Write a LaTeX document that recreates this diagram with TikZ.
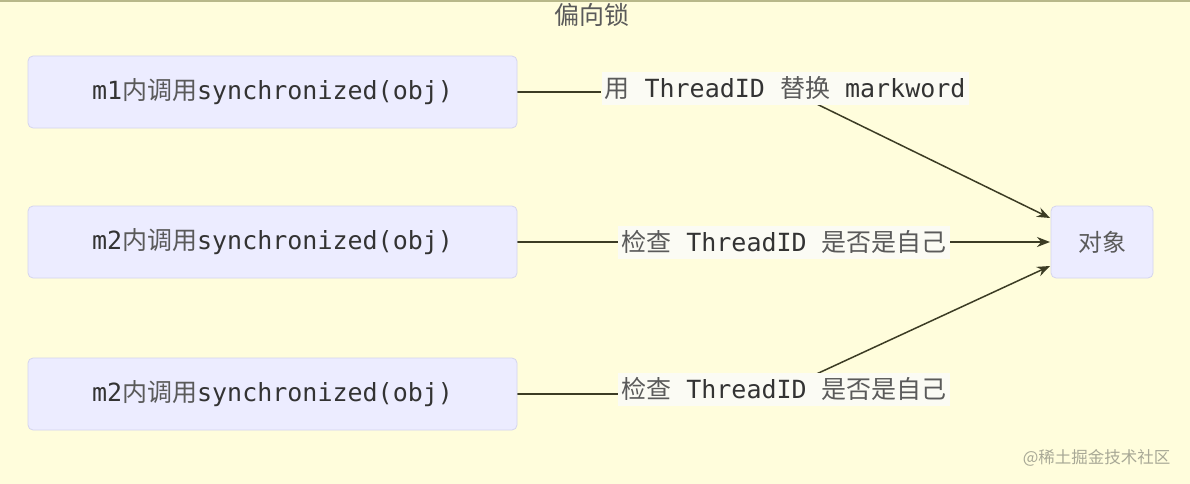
\documentclass[tikz,border=0pt]{standalone}
\usepackage{fontspec}
\setmonofont{DejaVu Sans Mono}
\newfontfamily\cjk{Noto Sans CJK SC}
\usetikzlibrary{arrows.meta}
\pgfdeclarelayer{back}
\pgfsetlayers{back,main}
\definecolor{bg}{HTML}{FFFDDC}
\definecolor{boxfill}{HTML}{ECECFF}
\definecolor{boxline}{HTML}{D4D4EE}
\definecolor{txt}{HTML}{333333}
\definecolor{cjktxt}{HTML}{5A5A5A}
\definecolor{edge}{HTML}{3C3C24}
\definecolor{lblbg}{HTML}{FBFBF4}
\tikzset{
  x=1pt,y=-1pt,
  stepbox/.style={draw=boxline, fill=boxfill, rounded corners=5pt, line width=0.8pt, minimum width=489pt, minimum height=72pt, inner sep=0pt, text=txt, font=\ttfamily\fontsize{25}{28}\selectfont},
  objbox/.style={draw=boxline, fill=boxfill, rounded corners=5pt, line width=0.8pt, minimum width=102pt, minimum height=72pt, inner sep=0pt, text=cjktxt, font=\cjk\fontsize{24}{28}\selectfont},
  lbl/.style={fill=lblbg, inner xsep=3pt, inner ysep=3pt, minimum height=33pt, text=txt, font=\ttfamily\fontsize{25}{28}\selectfont},
  conn/.style={draw=edge, line width=1.5pt},
  arr/.style={conn, -{Stealth[length=13pt,width=10pt]}},
}
\newcommand{\zh}[1]{{\cjk\color{cjktxt}#1}}
\begin{document}
\begin{tikzpicture}
\useasboundingbox (0,0) rectangle (1190,484);
\begin{pgfonlayer}{back}
\fill[bg] (0,0) rectangle (1190,484);
\fill[color={rgb,255:red,184;green,184;blue,138}] (0,0) rectangle (1190,2.5);
\end{pgfonlayer}
\node[text=cjktxt, font=\cjk\fontsize{25}{28}\selectfont] (title) at (592,15) {偏向锁};

\node[stepbox] (m1) at (272.5,92) {m1\zh{内调用}synchronized(obj)};
\node[stepbox] (m2) at (272.5,242) {m2\zh{内调用}synchronized(obj)};
\node[stepbox] (m3) at (272.5,394) {m2\zh{内调用}synchronized(obj)};
\node[objbox] (obj) at (1102,242) {对象};

\coordinate (t1) at (1050,218);
\coordinate (t2) at (1050,242);
\coordinate (t3) at (1050,266);

\node[lbl] (l1) at (785,88.5) {\zh{用} ThreadID \zh{替换} markword};
\node[lbl] (l2) at (784,242) {\zh{检查} ThreadID \zh{是否是自己}};
\node[lbl] (l3) at (784,389) {\zh{检查} ThreadID \zh{是否是自己}};

\begin{pgfonlayer}{back}
\draw[conn] (m1.east) -- (m1.east -| l1.west);
\draw[arr] (l1.center) -- (t1);
\draw[conn] (m2.east) -- (m2.east -| l2.west);
\draw[arr] (l2.center) -- (t2);
\draw[conn] (m3.east) -- (m3.east -| l3.west);
\draw[arr] (l3.center) -- (t3);
\end{pgfonlayer}

\node[text={rgb,255:red,168;green,168;blue,150}, font=\cjk\fontsize{16.5}{20}\selectfont, anchor=east] (wm) at (1174,458) {@稀土掘金技术社区};
\end{tikzpicture}
\end{document}
